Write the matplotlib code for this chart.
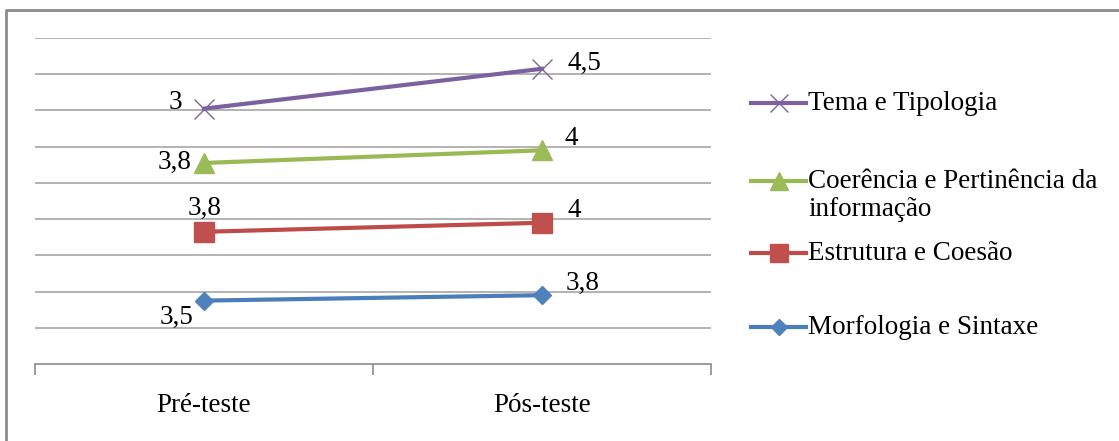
import numpy as np
import matplotlib
matplotlib.use("Agg")
import matplotlib.pyplot as plt
from matplotlib.lines import Line2D

# Scores per criterion (stacked line chart)
categories = ["Pré-teste", "Pós-teste"]
series_names = ["Morfologia e Sintaxe", "Estrutura e Coesão",
                ["Coerência e Pertinência da", "informação"], "Tema e Tipologia"]
morfologia = [3.5, 3.8]
estrutura = [3.8, 4.0]
coerencia = [3.8, 4.0]
tema = [3.0, 4.5]

values = [morfologia, estrutura, coerencia, tema]
line_colors = ["#4A7EBB", "#BE4B48", "#98B954", "#7D60A0"]
marker_colors = ["#4F81BD", "#C0504D", "#9BBB59", "#8064A2"]
markers = ["D", "s", "^", "x"]
marker_sizes = [9, 14, 14, 14]

W, H = 1119, 441
fig = plt.figure(figsize=(W / 100, H / 100), dpi=100)
plt.rcParams["font.family"] = ["Liberation Serif", "DejaVu Serif"]
FS = 19.5

# plot area in pixel coordinates
left, right, top, bottom = 35, 711, 38, 364
ax = fig.add_axes([left / W, (H - bottom) / H, (right - left) / W, (bottom - top) / H])
ax.set_xlim(0, 2)
ax.set_ylim(0, 18)
for s in ["top", "right", "left"]:
    ax.spines[s].set_visible(False)
ax.spines["bottom"].set_color("#8c8c8c")
ax.spines["bottom"].set_linewidth(1.2)
ax.set_yticks(np.arange(2, 19, 2))
ax.yaxis.grid(True, color="#a6a6a6", linewidth=1.2)
ax.tick_params(axis="y", left=False, labelleft=False)
ax.set_axisbelow(True)
x = np.array([0.5, 1.5])
ax.set_xticks(x)
ax.set_xticklabels(categories, fontsize=FS)
ax.tick_params(axis="x", which="major", length=0, pad=21)
ax.set_xticks([0, 1, 2], minor=True)
ax.tick_params(axis="x", which="minor", length=8, color="#8c8c8c", width=1.2, direction="out")

cum = np.cumsum(np.array(values), axis=0)
for i in range(4):
    mfc = marker_colors[i]
    ax.plot(x, cum[i], color=line_colors[i], linewidth=3, marker=markers[i],
            markersize=marker_sizes[i], markerfacecolor=mfc, markeredgecolor=mfc,
            markeredgewidth=1, zorder=3, clip_on=False)

# label offsets in pixels (dx, dy) for each series, pre and post
offsets = [
    [(-27, -17), (41, 12)],
    [(1, 23), (32, 12)],
    [(-29, 1), (29, 12)],
    [(-29, 6), (42, 5)],
]
for i in range(4):
    for j in range(2):
        lab = f"{values[i][j]:g}".replace(".", ",")
        ax.annotate(lab, (x[j], cum[i][j]), xytext=offsets[i][j],
                    textcoords="offset pixels", ha="center", va="center",
                    fontsize=FS, color="black", zorder=4)

# legend drawn in figure pixel coordinates
leg_y = [327, 253, 181, 103]
for i in range(4):
    yy = (H - leg_y[i]) / H
    mfc = marker_colors[i]
    fig.add_artist(Line2D([751 / W, 806 / W], [yy, yy], color=line_colors[i], linewidth=3,
                          transform=fig.transFigure))
    fig.add_artist(Line2D([778.5 / W], [yy], marker=markers[i], markersize=marker_sizes[i] * 0.9,
                          markerfacecolor=mfc, markeredgecolor=mfc, linestyle="none",
                          transform=fig.transFigure))
    name = series_names[i]
    lines = name if isinstance(name, list) else [name]
    for k, line in enumerate(lines):
        fig.text(808 / W, (H - leg_y[i] - 28 * k) / H, line, fontsize=FS,
                 ha="left", va="center")

# chart border
fig.add_artist(Line2D([6 / W, 6 / W, 1.0], [0, (H - 10) / H, (H - 10) / H],
                      color="#8c8c8c", linewidth=2, transform=fig.transFigure))

fig.savefig("out.png", dpi=100, facecolor="white")
